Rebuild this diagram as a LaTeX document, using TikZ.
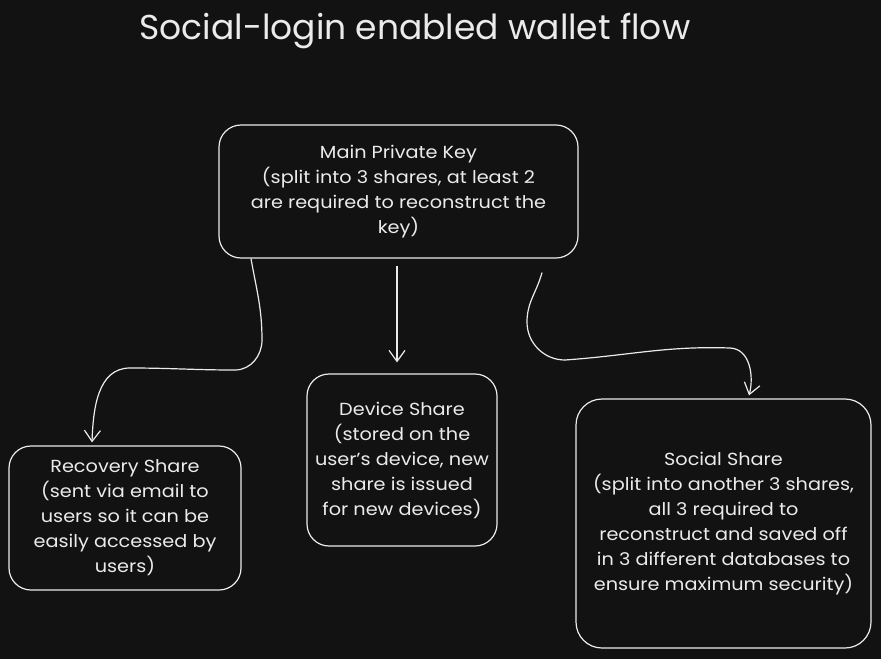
\documentclass[tikz,border=0pt]{standalone}
\usepackage{fontspec}
\setmainfont{Poppins}[FakeStretch=1.1]
\newfontfamily\titlefont{Poppins}
\usetikzlibrary{arrows.meta}
\definecolor{bg}{RGB}{18,18,18}
\definecolor{ink}{RGB}{235,235,235}

\begin{document}
\begin{tikzpicture}[x=1pt, y=-1pt,
  >={Straight Barb[length=11pt, width=16pt]},
  box/.style={draw=ink, line width=1.2pt, rounded corners=22pt, text=ink, align=center,
    font=\fontsize{17.5}{25}\selectfont, inner sep=0pt},
  link/.style={draw=ink, line width=1.2pt, ->}]
  \fill [bg] (0,0) rectangle (881,659);
  \node [text=ink, font=\titlefont\fontsize{34.5}{40}\selectfont] (title) at (415,31) {Social-login enabled wallet flow};
  \node [box, minimum width=359pt, minimum height=133pt] (main) at (398.5,191.5)
    {Main Private Key\\(split into 3 shares, at least 2\\are required to reconstruct the\\key)};
  \node [box, minimum width=232pt, minimum height=144pt] (recovery) at (125,518)
    {Recovery Share\\(sent via email to\\users so it can be\\easily accessed by\\users)};
  \node [box, minimum width=190pt, minimum height=172pt] (device) at (402,460)
    {Device Share\\(stored on the\\user's device, new\\share is issued\\for new devices)};
  \node [box, minimum width=295pt, minimum height=249pt, rounded corners=26pt] (social) at (723.5,523.5)
    {Social Share\\(split into another 3 shares,\\all 3 required to\\reconstruct and saved off\\in 3 different databases to\\ensure maximum security)};
  \draw [link] ([xshift=-147.5pt]main.south) to[out=-80, in=90] (262,340)
    to[out=-90, in=0] (235,370) to[out=180, in=0] (130,368)
    to[out=180, in=88] ([xshift=-33pt, yshift=3pt]recovery.north);
  \draw [link, shorten <=7pt, shorten >=11pt] ([xshift=-1.5pt]main.south) -- ([xshift=-5pt]device.north);
  \draw [link] ([shift={(143.5pt,-14pt)}]main.south) to[out=-105, in=90] (527,322)
    to[out=-90, in=180] (565,360) to[out=4, in=178] (730,348)
    to[out=-2, in=75] ([shift={(25.5pt,3pt)}]social.north);
\end{tikzpicture}
\end{document}
